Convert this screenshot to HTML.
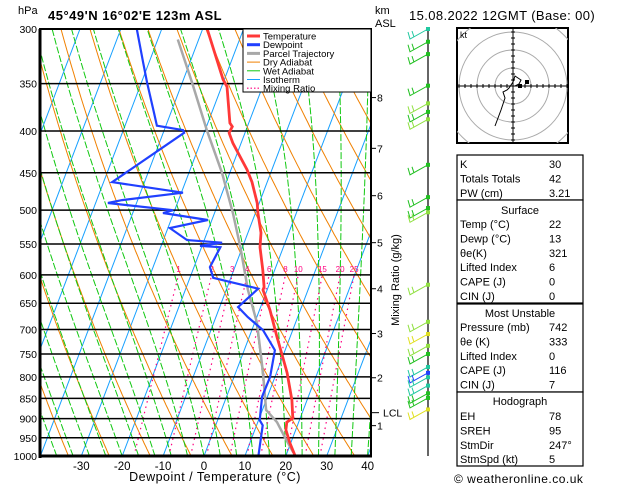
<!DOCTYPE html>
<html><head><meta charset="utf-8">
<style>
body{margin:0;background:#fff;width:629px;height:486px;overflow:hidden;font-family:"Liberation Sans",sans-serif;}
svg{display:block}
svg text{font-family:"Liberation Sans",sans-serif;}
</style></head>
<body>
<svg id="chart" width="629" height="486" viewBox="0 0 629 486" xmlns="http://www.w3.org/2000/svg">
<defs><clipPath id="pc"><rect x="40" y="29" width="331" height="427"/></clipPath>
<clipPath id="hc"><rect x="457" y="28" width="111" height="115"/></clipPath></defs>
<text x="18" y="14" font-size="11">hPa</text>
<text x="48" y="20" font-size="13" font-weight="bold" letter-spacing="0.5">45°49'N  16°02'E  123m  ASL</text>
<text x="375" y="14" font-size="11">km</text>
<text x="375" y="27" font-size="11">ASL</text>
<text x="409" y="20" font-size="13" letter-spacing="0.4">15.08.2022 12GMT (Base: 00)</text>
<g id="bg" clip-path="url(#pc)"></g>
<g id="grid"></g>
<g id="prof" clip-path="url(#pc)"></g>
<g id="axes"></g>
<g id="barbs"></g>
<g id="hodo"></g>
<g id="table"></g>
<text x="215" y="481" font-size="12.5" text-anchor="middle" letter-spacing="0.5">Dewpoint / Temperature (°C)</text>
<text x="399" y="280" font-size="11" text-anchor="middle" transform="rotate(-90 399 280)">Mixing Ratio (g/kg)</text>
<text x="454" y="483" font-size="12" letter-spacing="0.5">© weatheronline.co.uk</text>
</svg>
<script>
// ---- data ----
const pressureLevels=[300,350,400,450,500,550,600,650,700,750,800,850,900,950,1000];
const tempTicks=[-30,-20,-10,0,10,20,30,40];
const tempP=[300,346,353,391,395,402,414,446,462,490,504,533,555,592,621,626,663,715,752,791,854,899,909,929,964,1000];
const tempT=[-38.9,-30.3,-28.7,-24.6,-23.7,-23.9,-22.0,-16.1,-13.7,-10.5,-9.4,-6.8,-5.7,-2.9,-1.0,-1.0,2.6,6.8,9.7,12.6,16.3,18.2,17.1,17.6,19.8,22.3];
const dewP=[300,330,349,380,394,399,402,462,476,486,490,500,504,514,526,544,548,553,555,587,605,612,624,657,676,701,742,800,846,904,917,1000];
const dewT=[-56.1,-51.4,-48.6,-44.1,-42.2,-35.4,-34.9,-47.9,-29.6,-43.8,-47.0,-30.4,-32.6,-21.0,-29.5,-24.2,-15.4,-20.5,-15.4,-16.1,-14.3,-9.8,-2.3,-5.5,-2.2,2.7,7.5,8.8,8.7,10.3,11.5,13.3];
const parcelP=[309,349,399,450,504,555,626,687,791,878,909,948,990];
const parcelT=[-45.1,-37.6,-29.6,-21.9,-15.5,-10.5,-4.7,0.6,6.7,10.9,14.7,18.0,21.5];
const mixRatios=[1,2,3,4,6,8,10,15,20,25];
const mixLabels=["1","2","3","4","6","8","10","15","20","25"];
const kmHeights=[1,2,3,4,5,6,7,8];
const kmY_P=[918,802,708,624,548,480,420,364];
const lclP=885;
const barbP=[300,311,322,352,370,379,387,440,482,497,503,617,685,709,733,750,778,791,801,820,838,849,877];
const barbColor=["#20c8a0","#20c020","#20c020","#20c020","#90e040","#20c020","#90e040","#20c020","#20c020","#20c020","#90e040","#90e040","#90e040","#e0e020","#90e040","#20c020","#20c8a0","#2040ff","#20c8a0","#20c8a0","#20c020","#20c020","#e0e020"];
const hodoU=[-9,-6,-4,-5,-3,-2,0,1,4,3,1];
const hodoV=[-20,-12,-6,-3,-2,-1,2,5,3,1,0];
const surfaceRows=[["K","30"],["Totals Totals","42"],["PW (cm)","3.21"]];
const surfRows=[["Temp (°C)","22"],["Dewp (°C)","13"],["θe(K)","321"],["Lifted Index","6"],["CAPE (J)","0"],["CIN (J)","0"]];
const muRows=[["Pressure (mb)","742"],["θe (K)","333"],["Lifted Index","0"],["CAPE (J)","116"],["CIN (J)","7"]];
const hodoRows=[["EH","78"],["SREH","95"],["StmDir","247°"],["StmSpd (kt)","5"]];

// ---- axis functions ----
const X0=40,X1=371,Y0=29,Y1=456,S=0.38,TS=4.09,XC=204;
const NS="http://www.w3.org/2000/svg";
function yP(p){return Y0+(Math.log(p)-Math.log(300))/(Math.log(1000)-Math.log(300))*(Y1-Y0);}
function xT(t,p){return XC+t*TS+S*(Y1-yP(p));}
function mk(tag,attrs,parent){const e=document.createElementNS(NS,tag);for(const k in attrs)e.setAttribute(k,attrs[k]);parent.appendChild(e);return e;}
function pathFrom(ps,ts){let d="";for(let i=0;i<ps.length;i++){d+=(i?"L":"M")+xT(ts[i],ps[i]).toFixed(1)+","+yP(ps[i]).toFixed(1);}return d;}
const bg=document.getElementById('bg'),grid=document.getElementById('grid'),prof=document.getElementById('prof'),axes=document.getElementById('axes');
const plevs=[];for(let p=1000;p>=290;p-=5)plevs.push(p);

// isotherms
for(let t=-120;t<=40;t+=10){
 const l=mk('line',{x1:xT(t,1000),y1:yP(1000),x2:xT(t,300),y2:yP(300),stroke:'#16a0ff','stroke-width':1},bg);
 
 
}
// dry adiabats
for(let th=220;th<=480;th+=10){
 const ts=plevs.map(p=>th*Math.pow(p/1000,0.2857)-273.15);
 const e=mk('path',{d:pathFrom(plevs,ts),fill:'none',stroke:'#f08000','stroke-width':1},bg);
 
 
}
// moist adiabats
function es(t){return 6.112*Math.exp(17.67*t/(t+243.5));}
for(let tw=-40;tw<=40;tw+=4){
 let T=tw+273.15;const ps=[],ts=[];
 for(let p=1000;p>=290;p-=5){ps.push(p);ts.push(T-273.15);
  const rs=0.622*es(T-273.15)/(p-es(T-273.15));
  const num=287*T+2.5e6*rs,den=1004+2.5e6*2.5e6*rs*0.622/(287*T*T);
  T-=5*(num/den)/p;}
 const e=mk('path',{d:pathFrom(ps,ts),fill:'none',stroke:'#10c810','stroke-width':1,'stroke-dasharray':'7,2'},bg);
 
 
}
// mixing ratio
function tdW(w,p){const e=w*p/(622+w);const a=Math.log(e/6.112);return 243.5*a/(17.67-a);}
mixRatios.forEach((w,i)=>{
 const ps=[],ts=[];for(let p=1000;p>=600;p-=10){ps.push(p);ts.push(tdW(w,p));}
 const e=mk('path',{d:pathFrom(ps,ts),fill:'none',stroke:'#ff0080','stroke-width':1.2,'stroke-dasharray':'1.5,4'},bg);
 
 
 const t=mk('text',{x:xT(tdW(w,600),600),y:yP(600)-3,'font-size':8,fill:'#ff0080','text-anchor':'middle'},bg);
 t.textContent=mixLabels[i];
 
 
});
// pressure lines + labels
pressureLevels.forEach(p=>{
 const l=mk('line',{x1:X0,x2:X1,y1:yP(p),y2:yP(p),stroke:'#000','stroke-width':1.5},grid);
 
 
 const t=mk('text',{x:37,y:yP(p)+4,'font-size':10.5,'text-anchor':'end'},axes);
 t.textContent=p;
 
 
});
tempTicks.forEach(t=>{
 const x=xT(t,1000);
 const tx=mk('text',{x:x,y:470,'font-size':11.5,'text-anchor':'middle'},axes);
 tx.textContent=t;
 
 
});
// profiles
const par=mk('path',{d:pathFrom(parcelP,parcelT),fill:'none',stroke:'#a8a8a8','stroke-width':2.5},prof);


const dw=mk('path',{d:pathFrom(dewP,dewT),fill:'none',stroke:'#2040ff','stroke-width':2.2},prof);


const tl=mk('path',{d:pathFrom(tempP,tempT),fill:'none',stroke:'#ff3838','stroke-width':2.8},prof);


// frame
const fr=mk('rect',{x:X0,y:Y0,width:X1-X0,height:Y1-Y0,fill:'none',stroke:'#000','stroke-width':2},axes);


mk('line',{x1:X0,x2:X0,y1:Y0,y2:Y1+2,stroke:'#000','stroke-width':3},axes);
mk('line',{x1:X0-1,x2:X1+1,y1:Y1,y2:Y1,stroke:'#000','stroke-width':3},axes);
// km axis
kmHeights.forEach((k,i)=>{
 const y=yP(kmY_P[i]);
 mk('line',{x1:X1,x2:X1+5,y1:y,y2:y,stroke:'#000'},axes);
 const t=mk('text',{x:X1+6,y:y+4,'font-size':10.5},axes);
 t.textContent=k;
 
 
});
mk('line',{x1:X1,x2:X1+8,y1:yP(lclP),y2:yP(lclP),stroke:'#000'},axes);
const lcl=mk('text',{x:X1+12,y:yP(lclP)+4,'font-size':10.5},axes);
lcl.textContent='LCL';


// legend
const lg=mk('g',{},axes);


mk('rect',{x:243,y:29,width:128,height:63,fill:'#fff',stroke:'#000','stroke-width':1},lg);
const legNames=["Temperature","Dewpoint","Parcel Trajectory","Dry Adiabat","Wet Adiabat","Isotherm","Mixing Ratio"];
const legCols=["#ff3838","#2040ff","#a8a8a8","#f08000","#10c810","#16a0ff","#ff0080"];
const legW=[3,3,3,1,1,1,1.2];
legNames.forEach((n,i)=>{
 const y=36+i*8.7;
 mk('line',{x1:247,x2:260,y1:y,y2:y,stroke:legCols[i],'stroke-width':legW[i],'stroke-dasharray':i==6?'1.5,2':'none'},lg);
 const t=mk('text',{x:263,y:y+3.5,'font-size':9.5},lg);
 t.textContent=n;
 
 
});
// barbs
const bb=document.getElementById('barbs');
mk('line',{x1:428,x2:428,y1:29,y2:456,stroke:'#000','stroke-width':1.2},bb);
barbP.forEach((p,i)=>{
 const y=yP(p),c=barbColor[i];
 const g=mk('g',{},bb);
 
 
 mk('rect',{x:426,y:y-2,width:4,height:4,fill:c},g);
 const ex=410,ey=y+10;
 mk('polyline',{points:`428,${y} ${ex},${ey} ${ex-2},${ey-7}`,fill:'none',stroke:c,'stroke-width':1},g);
 mk('line',{x1:ex+4,y1:ey-2,x2:ex+2,y2:ey-8,stroke:c,'stroke-width':1},g);
});
// hodograph
const hd=document.getElementById('hodo');
const hcx=513,hcy=86;
const hb=mk('rect',{x:457,y:28,width:111,height:115,fill:'#fff',stroke:'#000','stroke-width':2},hd);


const hg=mk('g',{'clip-path':'url(#hc)'},hd);
[18,36,54,72].forEach(r=>mk('circle',{cx:hcx,cy:hcy,r:r,fill:'none',stroke:'#aaa','stroke-width':1},hg));
mk('line',{x1:457,x2:568,y1:hcy,y2:hcy,stroke:'#000'},hg);
mk('line',{x1:hcx,x2:hcx,y1:28,y2:143,stroke:'#000'},hg);
for(let k=-9;k<=9;k++){mk('line',{x1:hcx+k*6,x2:hcx+k*6,y1:hcy-2,y2:hcy+2,stroke:'#000'},hg);mk('line',{x1:hcx-2,x2:hcx+2,y1:hcy+k*6,y2:hcy+k*6,stroke:'#000'},hg);}
let hdp="";hodoU.forEach((u,i)=>{hdp+=(i?"L":"M")+(hcx+u*2)+","+(hcy-hodoV[i]*2);});
const hl=mk('path',{d:hdp,fill:'none',stroke:'#000','stroke-width':1},hg);


mk('rect',{x:hcx+12,y:hcy-6,width:4,height:4,fill:'#000'},hg);
mk('rect',{x:hcx+5,y:hcy-2,width:4,height:4,fill:'#000'},hg);
const kt=mk('text',{x:460,y:38,'font-size':9},hd);kt.textContent='kt';
// table
const tb=document.getElementById('table');
function box(y1,y2,name){const r=mk('rect',{x:457,y:y1,width:126,height:y2-y1,fill:'#fff',stroke:'#000','stroke-width':1.2},tb);}
box(155,200,'indices-box');box(200,303,'surface-box');box(304,392,'most-unstable-box');box(392,466,'hodograph-stats-box');
function rows(arr,y0){arr.forEach((r,i)=>{const y=y0+i*14.4;
 const a=mk('text',{x:460,y:y,'font-size':11},tb);a.textContent=r[0];
 
 
 const b=mk('text',{x:549,y:y,'font-size':11},tb);b.textContent=r[1];
 
 });}
rows(surfaceRows,168);
function title(t,y){const e=mk('text',{x:520,y:y,'font-size':11,'text-anchor':'middle'},tb);e.textContent=t;}
title('Surface',214);rows(surfRows,228);
title('Most Unstable',317);rows(muRows,331);
title('Hodograph',405);rows(hodoRows,420);
</script>
</body></html>
